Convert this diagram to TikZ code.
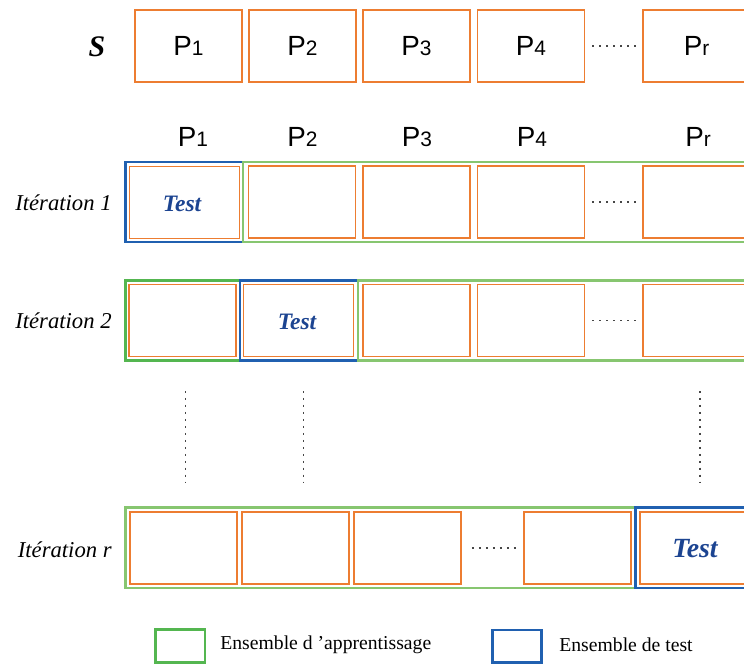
\documentclass[tikz,border=0pt]{standalone}
\usepackage{fontspec}
\setmainfont{Liberation Serif}
\newfontfamily\partfont{Liberation Sans}
\usetikzlibrary{positioning}

\definecolor{partorange}{RGB}{237,125,49}
\definecolor{traingreen}{RGB}{135,198,112}
\definecolor{traindark}{RGB}{84,182,80}
\definecolor{testblue}{RGB}{32,96,176}
\definecolor{testtext}{RGB}{28,68,145}
\definecolor{dotgray}{RGB}{70,70,70}

% part name: big P, smaller index on the baseline
\newcommand{\pname}[1]{{\partfont\fontsize{15.8}{18}\selectfont P\fontsize{11.9}{14}\selectfont #1}}

\tikzset{
  part/.style={draw=partorange, line width=1.05pt, minimum width=2.14cm, minimum height=1.44cm, inner sep=0pt},
  testpart/.style={part, minimum width=2.2cm},
  trainbox/.style={draw=traingreen, line width=1.35pt},
  testbox/.style={draw=testblue, line width=1.6pt},
  iterlabel/.style={anchor=east, inner sep=0pt, font=\fontsize{12.9}{15}\selectfont\itshape},
  testlabel/.style={font=\fontsize{13.4}{15}\selectfont\bfseries\itshape, text=testtext},
  dotline/.style={draw=dotgray, line width=0.85pt, dash pattern=on 1.1pt off 2.87pt},
  legendtext/.style={anchor=west, inner sep=0pt, font=\fontsize{11.2}{13}\selectfont},
}

\begin{document}
\begin{tikzpicture}[x=0.02cm, y=-0.02cm]
  \useasboundingbox (0,0) rectangle (744,664);
  \clip (0,0) rectangle (744,664);

  % Set S cut into r parts
  \node (s) at (97,47) {\fontsize{17}{20}\selectfont\bfseries\itshape S};
  \node[part] (s1) at (188.5,46) {\pname{1}};
  \node[part] (s2) at (302.5,46) {\pname{2}};
  \node[part] (s3) at (416.5,46) {\pname{3}};
  \node[part] (s4) at (531,46) {\pname{4}};
  \node[part] (sr) at (696.5,46) {\pname{r}};
  \draw[dotline] (s4.east) ++(7,0) -- ++(45,0);

  % Column heads
  \node (h1) at (193,137) {\pname{1}};
  \node (h2) at (302.5,137) {\pname{2}};
  \node (h3) at (417,137) {\pname{3}};
  \node (h4) at (532,137) {\pname{4}};
  \node (hr) at (698,137) {\pname{r}};

  % Iteration 1
  \node[iterlabel] (it1) at (112,203) {Itération 1};
  \draw[testbox] (125.5,162) rectangle (243,242);
  \draw[trainbox] (243,162) rectangle (760,242);
  \node[testpart] (a1) at (184.5,202.5) {};
  \node[part] (a2) at (302,202) {};
  \node[part] (a3) at (416.5,202) {};
  \node[part] (a4) at (531,202) {};
  \node[part] (ar) at (696.5,202) {};
  \node[testlabel] (t1) at (182,204) {Test};
  \draw[dotline] (a4.east) ++(7,0) -- ++(45,0);

  % Iteration 2
  \node[iterlabel] (it2) at (112,321) {Itération 2};
  \draw[draw=traindark, line width=1.4pt] (125.5,280.5) rectangle (240,360.5);
  \draw[testbox] (240,280.5) rectangle (358,360.5);
  \draw[trainbox] (358,280.5) rectangle (760,360.5);
  \node[part] (b1) at (182.5,320.5) {};
  \node[testpart] (b2) at (298.5,320.5) {};
  \node[part] (b3) at (416.5,320.5) {};
  \node[part] (b4) at (531,320.5) {};
  \node[part] (br) at (696.5,320.5) {};
  \node[testlabel] (t2) at (297,322) {Test};
  \draw[dotline] (b4.east) ++(7,0) -- ++(45,0);

  % Vertical dots between the iterations
  \coordinate (v1) at (185.5,391);
  \coordinate (v2) at (303.5,391);
  \coordinate (v3) at (700,391);
  \draw[dotline] (v1) -- ++(0,92);
  \draw[dotline] (v2) -- ++(0,92);
  \draw[dotline] (v3) -- ++(0,92);

  % Iteration r
  \node[iterlabel] (itr) at (112,550) {Itération r};
  \draw[trainbox] (125.5,507.5) rectangle (635.5,588);
  \draw[testbox] (635.5,507.5) rectangle (760,588);
  \node[part] (c1) at (183.5,548) {};
  \node[part] (c2) at (295.5,548) {};
  \node[part] (c3) at (407.5,548) {};
  \node[part] (c4) at (577.5,548) {};
  \node[testpart] (cr) at (695,548) {};
  \node[testlabel, font=\fontsize{15.8}{18}\selectfont\bfseries\itshape] (tr) at (695,549) {Test};
  \draw[dotline] (c3.east) ++(10,0) -- ++(45,0);

  % Legend
  \draw[draw=traindark, line width=1.4pt] (155.5,629.5) rectangle (205,662.5);
  \node[legendtext] (lg1) at (220,645) {Ensemble d ’apprentissage};
  \draw[testbox] (492.5,630) rectangle (541.5,662.5);
  \node[legendtext] (lg2) at (559,645) {Ensemble de test};
\end{tikzpicture}
\end{document}
